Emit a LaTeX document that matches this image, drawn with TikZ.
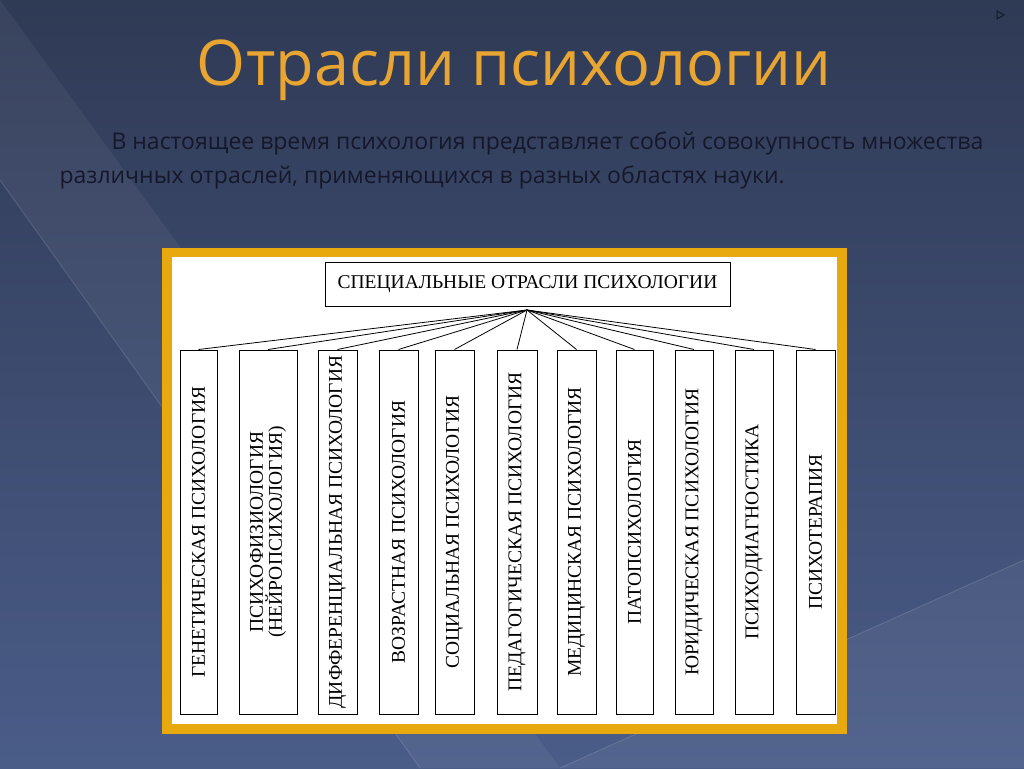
\documentclass[tikz,border=0pt]{standalone}
\usepackage{fontspec}
\setmainfont{Liberation Serif}
\newfontfamily\titlefont{Open Sans}
\newfontfamily\bodyfont{Open Sans}
\definecolor{bgtop}{HTML}{2F3A55}
\definecolor{bgbot}{HTML}{4A5C88}
\definecolor{titlegold}{HTML}{E8A531}
\definecolor{framegold}{HTML}{E8A90E}
\definecolor{bodyink}{HTML}{15182A}
\tikzset{
  branch/.style={draw, line width=1pt, fill=white},
  branchtext/.style={rotate=90, font=\fontsize{19.5}{19}\selectfont, align=center},
  spoke/.style={line width=0.8pt}
}
\begin{document}
\begin{tikzpicture}[x=1pt,y=-1pt]
	% Фон
	\shade[top color=bgtop, bottom color=bgbot] (0,0) rectangle (1024,768);
	\useasboundingbox (0,0) rectangle (1024,768);
	\fill[white, opacity=0.05] (0,0) -- (0,180) -- (420,768) -- (1024,768) -- (1024,560) -- (560,768) -- cycle;
	\draw[white, opacity=0.12, line width=1pt] (0,180) -- (420,768);
	\draw[white, opacity=0.12, line width=1pt] (560,768) -- (1024,560);
	\draw[bodyink, line width=1pt] (997,11) -- (1004,15) -- (997,19) -- cycle;

	% Заголовок
	\node[text=titlegold] (title) at (514,70) {\titlefont\fontsize{63}{64}\selectfont Отрасли психологии};

	\node[text=bodyink, anchor=north west, align=left, font=\bodyfont\fontsize{23}{34}\selectfont]
		(intro) at (56,128) {\hspace*{52pt}В настоящее время психология представляет собой совокупность множества\\
		различных отраслей, применяющихся в разных областях науки.};

	% Рамка
	\fill[framegold] (162,248) rectangle (847,734);
	\fill[white] (172,257) rectangle (837,724);

	\node[branch, minimum width=405pt, minimum height=44pt, font=\fontsize{19.5}{20}\selectfont]
		(root) at (527.5,284) {СПЕЦИАЛЬНЫЕ ОТРАСЛИ ПСИХОЛОГИИ};
	\coordinate (hub) at (527,310);

	% Отрасли
	\foreach \name/\xa/\xb/\txt in {
		b1/180/217/{ГЕНЕТИЧЕСКАЯ ПСИХОЛОГИЯ},
		b2/239/297/{ПСИХОФИЗИОЛОГИЯ\\(НЕЙРОПСИХОЛОГИЯ)},
		b3/318/357/{ДИФФЕРЕНЦИАЛЬНАЯ ПСИХОЛОГИЯ},
		b4/379/418/{ВОЗРАСТНАЯ ПСИХОЛОГИЯ},
		b5/435/474/{СОЦИАЛЬНАЯ ПСИХОЛОГИЯ},
		b6/497/537/{ПЕДАГОГИЧЕСКАЯ ПСИХОЛОГИЯ},
		b7/557/596/{МЕДИЦИНСКАЯ ПСИХОЛОГИЯ},
		b8/616/653/{ПАТОПСИХОЛОГИЯ},
		b9/675/713/{ЮРИДИЧЕСКАЯ ПСИХОЛОГИЯ},
		b10/735/773/{ПСИХОДИАГНОСТИКА},
		b11/796/835/{ПСИХОТЕРАПИЯ}}{
		\node[branch, minimum width=\xb pt-\xa pt, minimum height=364pt, inner sep=0pt]
			(\name) at ({(\xa+\xb)/2},532) {};
		\node[branchtext] at (\name.center) {\txt};
		\draw[spoke] (hub) -- (\name.north);
	}
\end{tikzpicture}
\end{document}
